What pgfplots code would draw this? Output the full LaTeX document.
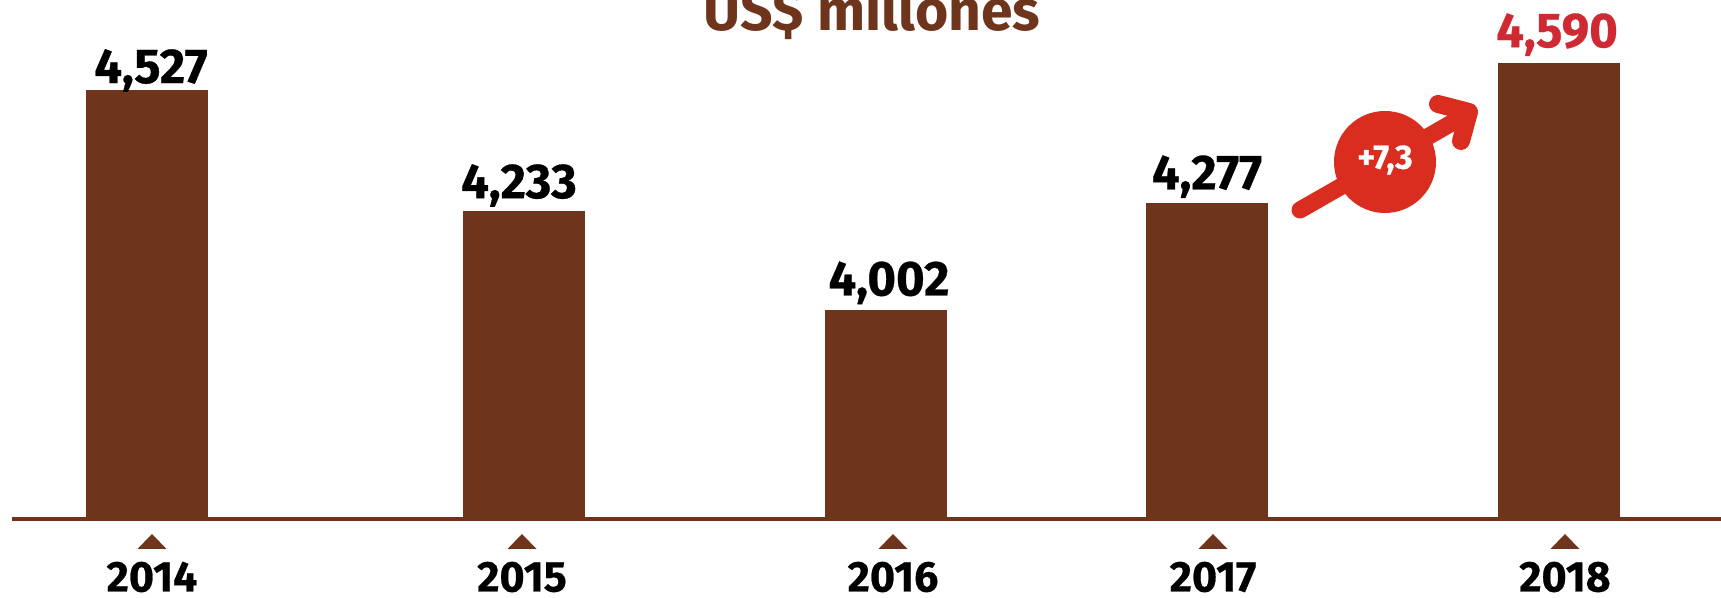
\documentclass[border=0pt]{standalone}
\usepackage{fontspec}
\setmainfont{Fira Sans}[BoldFeatures={FakeBold=0.6}]
\newfontfamily\titlefont{Fira Sans}
\usepackage{pgfplots}
\pgfplotsset{compat=1.18}
\definecolor{brown1}{HTML}{6F351C}
\definecolor{red1}{HTML}{D92D20}
\definecolor{red2}{HTML}{CF2A33}
% one picture pixel is 0.5pt, the canvas is 1721 x 598 px
\pgfdeclareplotmark{tick tri}{%
  \pgfpathmoveto{\pgfqpoint{-7.25pt}{-14.75pt}}%
  \pgfpathlineto{\pgfqpoint{7.25pt}{-14.75pt}}%
  \pgfpathlineto{\pgfqpoint{0pt}{-7.25pt}}%
  \pgfpathclose\pgfusepathqfill}
\pgfplotsset{
  barplot/.style={ybar, bar width=61pt, bar shift=0pt, fill=brown1, draw=none,
    point meta=explicit symbolic, nodes near coords},
}
\newcommand{\lab}{\fontsize{24.5}{24.5}\selectfont\bfseries}
\begin{document}
\begin{tikzpicture}
\path[use as bounding box, clip] (0,0) rectangle (860.5pt,299pt);
\begin{axis}[
  at={(6pt,39.25pt)}, anchor=south west, scale only axis,
  width=854.5pt, height=259.75pt,
  xmin=12, xmax=1721, ymin=3503, ymax=4743,
  clip=false,
  axis x line=bottom, axis y line=none,
  axis line style={brown1, line width=2pt, -},
  xtick={152,522,893,1213,1565},
  xticklabels={2014,2015,2016,2017,2018},
  major tick length=0pt,
  xticklabel style={anchor=base, yshift=-36pt, inner sep=0pt, text depth=0pt, font=\fontsize{21.5}{21.5}\selectfont\bfseries},
  every node near coord/.append style={anchor=base, font=\lab, black, inner sep=0pt},
]
\addplot[barplot, every node near coord/.append style={xshift=2pt,yshift=3.7pt}] coordinates {(147,4527)[4,527]};
\addplot[barplot, every node near coord/.append style={xshift=-2.5pt,yshift=6.5pt}] coordinates {(524,4239)[4,233]};
\addplot[barplot, every node near coord/.append style={xshift=1.5pt,yshift=7.5pt}] coordinates {(886,4002)[4,002]};
\addplot[barplot, every node near coord/.append style={yshift=6.75pt}] coordinates {(1207,4259)[4,277]};
\addplot[barplot, every node near coord/.append style={xshift=-1pt,yshift=8pt,text=red2}] coordinates {(1559,4592)[4,590]};
\addplot[only marks, mark=tick tri, brown1] coordinates {(152,3503) (522,3503) (893,3503) (1213,3503) (1565,3503)};
\end{axis}
% title and growth badge, in picture pixels
\begin{scope}[x=0.5pt, y=-0.5pt, shift={(0pt,299pt)}]
\node[anchor=base, text=brown1, inner sep=0pt, font=\fontsize{28.5}{28.5}\selectfont\titlefont\bfseries] at (872,31) {US\$ millones};
\draw[red1, line width=8.5pt, line cap=round] (1300,210) -- (1464,116);
\draw[red1, line width=9pt, line cap=round, line join=round] (1438,104) -- (1469,112) -- (1461,141);
\fill[red1] (1385,162) circle[radius=25.5pt];
\node[white, inner sep=0pt, font=\fontsize{17}{17}\selectfont\bfseries] at (1385,160) {+7,3};
\end{scope}
\end{tikzpicture}
\end{document}
